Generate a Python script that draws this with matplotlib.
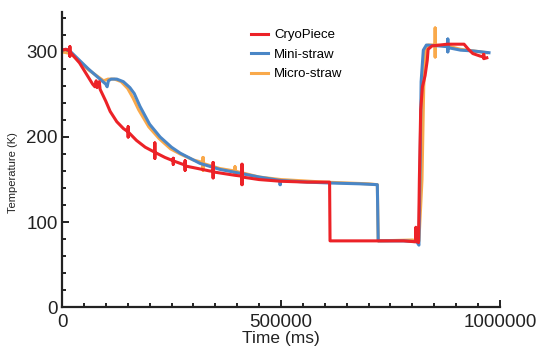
import matplotlib
matplotlib.use("Agg")
import matplotlib.pyplot as plt
from matplotlib.ticker import MultipleLocator, FormatStrFormatter

# time (ms) and temperature (K)
cryo_t = [0, 8000, 15000, 18000, 18000, 18000, 18000, 40000, 70000, 75000, 78000, 80000, 85000, 87000,
          100000, 110000, 125000, 140000, 151000, 151000, 151000, 151000, 170000, 190000,
          212000, 212000, 212000, 212000, 235000, 254000, 254000, 254000, 254000, 270000,
          281000, 281000, 281000, 281000, 310000, 338000, 345000, 345000, 345000, 345000,
          370000, 395000, 411000, 411000, 411000, 411000, 450000, 500000, 560000, 611000,
          612000, 700000, 780000, 805000, 808000, 808000, 809000, 814000, 816000, 819000,
          823000, 829000, 834000, 836000, 845000, 880000, 918000, 928000, 938000, 955000,
          963000, 963000, 963000, 970000]
cryo_k = [302, 303, 302, 301, 306, 295, 300, 287, 262, 259, 266, 258, 265, 256,
          242, 230, 218, 210, 206, 212, 200, 206, 196, 188,
          182, 193, 175, 182, 176, 172, 175, 168, 172, 169,
          167, 172, 161, 166, 163, 160, 160, 170, 152, 159,
          157, 155, 154, 168, 144, 153, 150, 148, 147, 147,
          78, 78, 78, 77, 77, 94, 78, 76, 150, 232,
          259, 272, 290, 303, 307, 309, 309, 303, 298, 295,
          294, 297, 292, 293]

mini_t = [0, 10000, 20000, 60000, 100000, 103000, 106000, 112000, 125000, 140000, 155000,
          165000, 178000, 200000, 224000, 250000, 270000, 315000, 360000, 390000, 450000,
          498000, 498000, 498000, 560000, 610000, 680000, 720000, 722000, 780000, 810000,
          815000, 818000, 820000, 825000, 832000, 860000, 881000, 881000, 881000, 881000,
          910000, 940000, 975000]
mini_k = [302, 303, 300, 280, 262, 259, 266, 268, 268, 265, 258,
          251, 236, 215, 200, 188, 181, 169, 162, 159, 153,
          149, 144, 149, 147, 146, 145, 144, 78, 78, 77,
          73, 180, 265, 302, 308, 307, 306, 315, 300, 305,
          302, 301, 299]

micro_t = [0, 20000, 60000, 95000, 105000, 120000, 135000, 150000, 162000, 175000, 198000,
           222000, 248000, 270000, 300000, 322000, 322000, 322000, 322000, 360000,
           395000, 395000, 395000, 395000, 450000, 500000, 600000, 700000, 720000, 722000,
           800000, 815000, 822000, 826000, 830000, 836000, 852000, 852000, 852000, 852000,
           880000, 910000, 940000, 970000]
micro_k = [300, 298, 279, 266, 268, 268, 265, 257, 246, 232, 212,
           198, 186, 180, 173, 170, 176, 161, 169, 163,
           160, 165, 157, 160, 153, 150, 147, 145, 144, 78,
           79, 78, 150, 260, 300, 308, 308, 328, 294, 308,
           307, 303, 301, 299]

plt.rcParams['font.family'] = ['Liberation Sans', 'DejaVu Sans']

fig = plt.figure(figsize=(5.37, 3.48), dpi=100)
ax = fig.add_axes([0.1155, 0.117, 0.8155, 0.849])

lw = 2.2
l_micro, = ax.plot(micro_t, micro_k, color='#f9a94b', lw=lw, label='Micro-straw')
l_mini, = ax.plot(mini_t, mini_k, color='#4a86c6', lw=lw, label='Mini-straw')
l_cryo, = ax.plot(cryo_t, cryo_k, color='#ec2227', lw=lw, label='CryoPiece')

ax.set_xlim(0, 1000000)
ax.set_ylim(0, 347)

for s in ['top', 'right']:
    ax.spines[s].set_visible(False)
for s in ['left', 'bottom']:
    ax.spines[s].set_linewidth(1.6)
    ax.spines[s].set_color('#222222')

ax.xaxis.set_major_locator(MultipleLocator(500000))
ax.xaxis.set_minor_locator(MultipleLocator(50000))
ax.xaxis.set_major_formatter(FormatStrFormatter('%d'))
ax.yaxis.set_major_locator(MultipleLocator(100))
ax.yaxis.set_minor_locator(MultipleLocator(20))
ax.tick_params(which='major', direction='in', length=5, width=1.4, color='#222222',
               labelsize=13.5, labelcolor='#222222')
ax.tick_params(axis='x', which='major', pad=4.5)
ax.tick_params(axis='y', which='major', pad=3)
ax.tick_params(which='minor', direction='in', length=3, width=1.4, color='#222222')

ax.set_xlabel('Time (ms)', fontsize=12.5, color='#222222', labelpad=0)
ax.set_ylabel('Temperature (K)', fontsize=8, color='#222222')
ax.yaxis.set_label_coords(-0.1, 0.457)

ax.legend(handles=[l_cryo, l_mini, l_micro], loc='upper left', bbox_to_anchor=(0.405, 0.982),
          frameon=False, fontsize=9.5, handlelength=1.3, handletextpad=0.45, labelspacing=0.55)

fig.savefig('out.png', dpi=100)
